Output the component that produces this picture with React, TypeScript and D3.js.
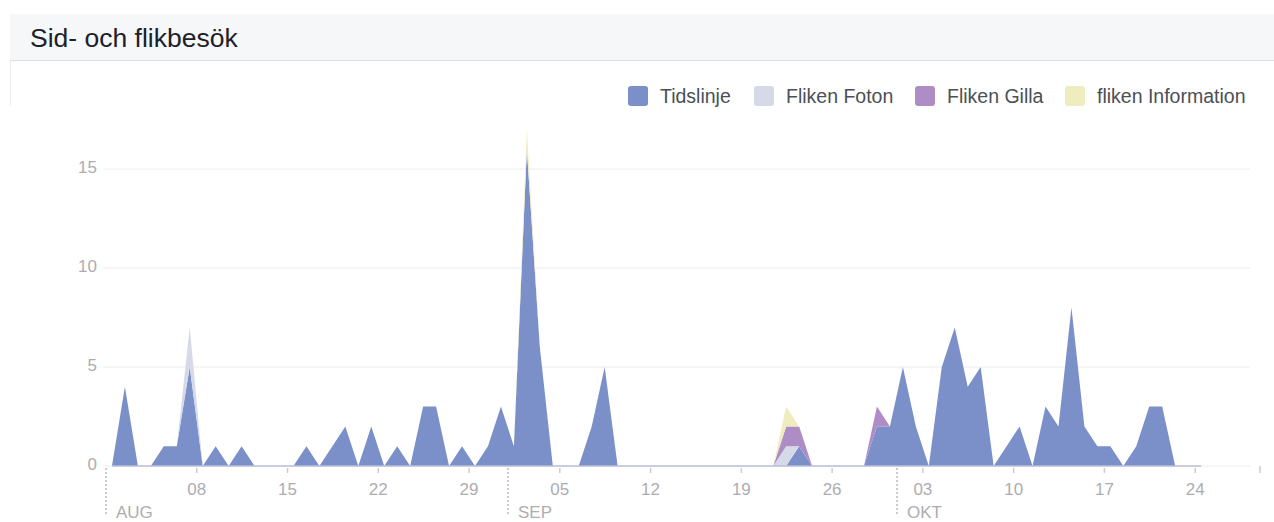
import { useEffect, useRef } from 'react';
import * as d3 from 'd3';

// Series / legend
const seriesNames = ['Tidslinje', 'Fliken Foton', 'Fliken Gilla', 'fliken Information'];
const seriesColors = ['#7b90c8', '#d6dae8', '#ae8cc5', '#efedbf'];
const monthLabels = ['AUG', 'SEP', 'OKT'];
const yTicks = [0, 5, 10, 15];
const firstDay = new Date(2016, 7, 1);
const lastDay = new Date(2016, 9, 29);

// Daily values, 1 Aug .. 24 Okt
const tidslinje = [
    // Aug
    0, 4, 0, 0, 1, 1, 5, 0, 1, 0,  1, 0, 0, 0, 0, 1, 0, 1, 2, 0,  2, 0, 1, 0, 3, 3, 0, 1, 0, 1,  3,
    // Sep
    1, 16, 6, 0, 0, 0, 2, 5, 0, 0,  0, 0, 0, 0, 0, 0, 0, 0, 0, 0,  0, 0, 1, 0, 0, 0, 0, 0, 2, 2,
    // Okt
    5, 2, 0, 5, 7, 4, 5, 0, 1, 2,  0, 3, 2, 8, 2, 1, 1, 0, 1, 3,  3, 0, 0, 0,
];
const flikenFoton = [
    0, 0, 0, 0, 0, 0, 2, 0, 0, 0,  0, 0, 0, 0, 0, 0, 0, 0, 0, 0,  0, 0, 0, 0, 0, 0, 0, 0, 0, 0,  0,
    0, 0, 0, 0, 0, 0, 0, 0, 0, 0,  0, 0, 0, 0, 0, 0, 0, 0, 0, 0,  0, 1, 0, 0, 0, 0, 0, 0, 0, 0,
    0, 0, 0, 0, 0, 0, 0, 0, 0, 0,  0, 0, 0, 0, 0, 0, 0, 0, 0, 0,  0, 0, 0, 0,
];
const flikenGilla = [
    0, 0, 0, 0, 0, 0, 0, 0, 0, 0,  0, 0, 0, 0, 0, 0, 0, 0, 0, 0,  0, 0, 0, 0, 0, 0, 0, 0, 0, 0,  0,
    0, 0, 0, 0, 0, 0, 0, 0, 0, 0,  0, 0, 0, 0, 0, 0, 0, 0, 0, 0,  0, 1, 1, 0, 0, 0, 0, 0, 1, 0,
    0, 0, 0, 0, 0, 0, 0, 0, 0, 0,  0, 0, 0, 0, 0, 0, 0, 0, 0, 0,  0, 0, 0, 0,
];
const flikenInformation = [
    0, 0, 0, 0, 0, 0, 0, 0, 0, 0,  0, 0, 0, 0, 0, 0, 0, 0, 0, 0,  0, 0, 0, 0, 0, 0, 0, 0, 0, 0,  0,
    0, 1, 0, 0, 0, 0, 0, 0, 0, 0,  0, 0, 0, 0, 0, 0, 0, 0, 0, 0,  0, 1, 0, 0, 0, 0, 0, 0, 0, 0,
    0, 0, 0, 0, 0, 0, 0, 0, 0, 0,  0, 0, 0, 0, 0, 0, 0, 0, 0, 0,  0, 0, 0, 0,
];

const W = 1274;
const H = 522;
const FONT = '"Liberation Sans", Arial, Helvetica, sans-serif';

interface Row {
    date: Date;
    [key: string]: any;
}

export default function App() {
    const ref = useRef<HTMLDivElement>(null);

    useEffect(() => {
        if (!ref.current) return;
        ref.current.innerHTML = '';

        const allSeries = [tidslinje, flikenFoton, flikenGilla, flikenInformation];
        const rows: Row[] = tidslinje.map((_, i) => {
            const r: Row = { date: d3.timeHour.offset(d3.timeDay.offset(firstDay, i), 11) };
            seriesNames.forEach((n, k) => (r[n] = allSeries[k][i]));
            return r;
        });

        const x = d3.scaleTime().domain([firstDay, lastDay]).range([106, 1260]);
        const y = d3.scaleLinear().domain([0, 15]).range([466, 169]);
        const gridLeft = 103;
        const gridRight = 1250;

        const svg = d3.create('svg')
            .attr('width', W)
            .attr('height', H)
            .style('position', 'fixed')
            .style('left', '0px')
            .style('top', '0px')
            .style('font-family', FONT)
            .style('background', '#fff');

        // Header bar
        svg.append('rect').attr('x', 10).attr('y', 14).attr('width', W - 10).attr('height', 46).attr('fill', '#f6f7f9');
        svg.append('line').attr('x1', 10).attr('x2', W).attr('y1', 60.5).attr('y2', 60.5).attr('stroke', '#dddfe2');
        svg.append('line').attr('x1', 10.5).attr('x2', 10.5).attr('y1', 61).attr('y2', 106).attr('stroke', '#eceef1');
        svg.append('text')
            .attr('x', 30).attr('y', 46.5)
            .attr('font-size', 26.5)
            .attr('fill', '#1d2129')
            .text('Sid- och flikbesök');

        // Legend
        const legendX = [628, 754, 915, 1065];
        const legend = svg.append('g');
        seriesNames.forEach((n, i) => {
            legend.append('rect')
                .attr('x', legendX[i]).attr('y', 86).attr('width', 20).attr('height', 20)
                .attr('rx', 3).attr('fill', seriesColors[i]);
            legend.append('text')
                .attr('x', legendX[i] + 32).attr('y', 103)
                .attr('font-size', 19.5)
                .attr('fill', '#4b4f56')
                .text(n);
        });

        // Grid + y labels
        const grid = svg.append('g');
        yTicks.forEach(t => {
            grid.append('line')
                .attr('x1', gridLeft).attr('x2', gridRight)
                .attr('y1', y(t)).attr('y2', y(t))
                .attr('stroke', '#ececec').attr('stroke-width', 1);
            grid.append('text')
                .attr('x', 97).attr('y', y(t) + 4)
                .attr('text-anchor', 'end')
                .attr('font-size', 17)
                .attr('fill', '#adadb0')
                .text(t);
        });

        // Stacked areas
        const stack = d3.stack<Row>().keys(seriesNames);
        const layers = stack(rows);
        const area = d3.area<d3.SeriesPoint<Row>>()
            .x(d => x(d.data.date))
            .y0(d => y(d[0]))
            .y1(d => y(d[1]))
            .curve(d3.curveLinear);

        svg.append('g')
            .selectAll('path')
            .data(layers)
            .join('path')
            .attr('fill', (_, i) => seriesColors[i])
            .attr('d', area);

        // Zero line of the series
        svg.append('line')
            .attr('x1', x(rows[0].date)).attr('x2', x(rows[rows.length - 1].date))
            .attr('y1', y(0)).attr('y2', y(0))
            .attr('stroke', '#b9bfdd').attr('stroke-width', 1.5);

        // X axis: weekly ticks
        const tickDates = d3.timeMonday.range(new Date(2016, 7, 8), new Date(2016, 9, 25));
        const xAxis = svg.append('g');
        tickDates.forEach(d => {
            xAxis.append('line')
                .attr('x1', x(d)).attr('x2', x(d))
                .attr('y1', 468).attr('y2', 473)
                .attr('stroke', '#cccccc').attr('stroke-width', 1.5);
            xAxis.append('text')
                .attr('x', x(d)).attr('y', 495)
                .attr('text-anchor', 'middle')
                .attr('font-size', 17)
                .attr('fill', '#adadb0')
                .text(d3.timeFormat('%d')(d));
        });
        xAxis.append('line')
            .attr('x1', x(lastDay)).attr('x2', x(lastDay))
            .attr('y1', 466).attr('y2', 473)
            .attr('stroke', '#cccccc').attr('stroke-width', 1.5);

        // Month markers
        const months = d3.timeMonth.range(firstDay, lastDay);
        months.forEach((m, i) => {
            xAxis.append('line')
                .attr('x1', x(m)).attr('x2', x(m))
                .attr('y1', 468).attr('y2', 516)
                .attr('stroke', '#bbbbbb').attr('stroke-width', 1.5)
                .attr('stroke-dasharray', '2,2');
            xAxis.append('text')
                .attr('x', x(m) + 10).attr('y', 518)
                .attr('font-size', 17)
                .attr('fill', '#adadb0')
                .text(monthLabels[i]);
        });

        ref.current.appendChild(svg.node()!);
    }, []);

    return <div ref={ref} style={{ position: 'relative', width: W, height: H }} />;
}
